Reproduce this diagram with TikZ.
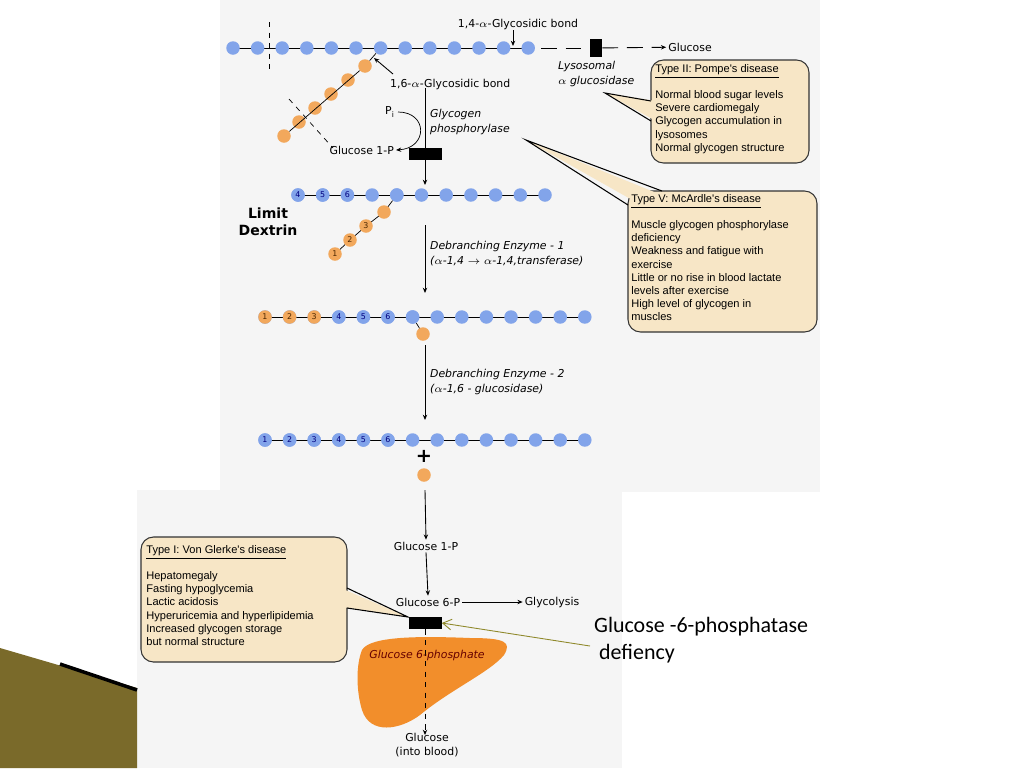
\documentclass[tikz,border=0pt]{standalone}
\usepackage{fontspec}
\setmainfont{DejaVu Sans}
\newfontfamily\boxfont{Liberation Sans}
\newfontfamily\slidefont{Carlito}
\usetikzlibrary{positioning,arrows.meta}
\definecolor{glcblue}{HTML}{82A4EA}
\definecolor{glcorange}{HTML}{F2A85C}
\definecolor{tan}{HTML}{F7E6C6}
\definecolor{liver}{HTML}{F28E2B}
\definecolor{panel}{HTML}{F5F5F5}
\definecolor{gold}{HTML}{7A6A2A}
\tikzset{
  glc/.style={circle, fill=glcblue, minimum size=0.27cm, inner sep=0pt, font=\fontsize{4.5}{5}\selectfont, text=blue!50!black},
  glco/.style={glc, fill=glcorange, text=black!70!orange},
  lbl/.style={font=\fontsize{6.2}{7.5}\selectfont, inner sep=1pt},
  enz/.style={lbl, font=\fontsize{6.2}{8.5}\selectfont\itshape, align=left, anchor=west},
  box/.style={draw=black!80, fill=tan, rounded corners=0.25cm, line width=0.6pt},
  boxtxt/.style={font=\fontsize{6.3}{7.5}\boxfont, align=left, anchor=north west, inner sep=0pt},
  flow/.style={-{Stealth[length=3pt,width=2.5pt]}, line width=0.5pt},
  block/.style={fill=black, minimum width=0.66cm, minimum height=0.24cm, inner sep=0pt}
}
\begin{document}
\begin{tikzpicture}[x=0.02cm, y=-0.02cm]
  \useasboundingbox (0,0) rectangle (1024,768);
  \fill[white] (0,0) rectangle (1024,768);
  % panels
  \fill[panel] (220,0) rectangle (820,492);
  \fill[panel] (137,490) rectangle (622,768);
  \fill[gold] (0,648) -- (137,688) -- (137,768) -- (0,768) -- cycle;
  \draw[black, line width=2pt] (60,664) -- (137,690);

  % chain 1
  \draw (233,48) -- (528,48);
  \foreach \i in {1,...,13} \node[glc] (a\i) at ({233+24.6*(\i-1)},48) {};
  \draw[dashed] (269,22) -- (269,74);
  \foreach \i/\x/\y in {1/365/66,2/348/80,3/331/94,4/315/108,5/299/122,6/284/136}
    \node[glco] (o\i) at (\x,\y) {};
  \draw (a7) -- (o1) -- (o6);
  \draw[dashed] (289,99) -- (333,148);
  \node[lbl] (b14) at (518,24) {1,4-$\alpha$-Glycosidic bond};
  \draw[flow] (513,30) -- (513,46);
  \node[lbl, anchor=west] (b16) at (388,84) {1,6-$\alpha$-Glycosidic bond};
  \draw[flow] (393,74) -- (374,58);
  \node[block, minimum width=0.24cm, minimum height=0.36cm] (lys) at (596,48) {};
  \draw[dashed, dash pattern=on 9pt off 5pt] (541,48) -- (lys);
  \node[lbl] (glc) at (690,47) {Glucose};
  \draw[flow, dash pattern=on 9pt off 5pt] (lys) -- (glc);
  \node[enz] (lyst) at (556,74) {Lysosomal\\$\alpha$ glucosidase};

  % phosphorylase step
  \node[block] (gp) at (425,154) {};
  \draw[flow] (425,88) -- (425,185);
  \node[enz] (gpt) at (428,122) {Glycogen\\phosphorylase};
  \node[lbl] (pi) at (390,112) {P$_\mathrm{i}$};
  \node[lbl, anchor=east] (g1p) at (396,150) {Glucose 1-P};
  \draw[-{Stealth[length=3pt,width=2.5pt]}] (398,112) .. controls (428,112) and (428,148) .. (g1p.east);

  % Pompe
  \draw[box] (651,60) rectangle (809,163);
  \fill[tan] (605,93) -- (656,101) -- (656,121) -- cycle;
  \draw[line width=0.6pt] (651,101) -- (605,93) -- (651,121);
  \node[boxtxt] (pompe) at (655,64) {\underline{Type II: Pompe's disease}\\[6pt]Normal blood sugar levels\\Severe cardiomegaly\\Glycogen accumulation in\\lysosomes\\Normal glycogen structure};

  % McArdle
  \draw[box] (628,191) rectangle (817,332);
  \fill[tan] (526,140) -- (634,201) -- (664,196) -- cycle;
  \draw[line width=0.6pt] (628,205) -- (526,140) -- (662,191);
  \node[boxtxt] (mcardle) at (631,194) {\underline{Type V: McArdle's disease}\\[6pt]Muscle glycogen phosphorylase\\deficiency\\Weakness and fatigue with\\exercise\\Little or no rise in blood lactate\\levels after exercise\\High level of glycogen in\\muscles};

  % chain 2 : limit dextrin
  \draw (298,195) -- (545,195);
  \foreach \i in {1,...,11} \node[glc] (d\i) at ({298+24.7*(\i-1)},195) {};
  \foreach \i/\t in {1/4,2/5,3/6} \node[glc] at (d\i) {\t};
  \coordinate (e1) at (384,212);
  \coordinate (e2) at (366,226);
  \coordinate (e3) at (350,240);
  \coordinate (e4) at (335,254);
  \draw (d5) -- (e1) -- (e2) -- (e3) -- (e4);
  \node[glc] at (d5) {};
  \node[glco] at (e1) {}; \node[glco] at (e2) {3};
  \node[glco] at (e3) {2}; \node[glco] at (e4) {1};
  \node[font=\fontsize{8}{9.5}\selectfont\bfseries, align=center] (ld) at (268,222) {Limit\\Dextrin};

  % debranching 1
  \draw[flow] (425,225) -- (425,293);
  \node[enz] (de1) at (428,254) {Debranching Enzyme - 1\\($\alpha$-1,4 $\rightarrow$ $\alpha$-1,4,transferase)};

  % chain 3
  \draw (265,317) -- (585,317);
  \foreach \i in {1,...,14} \node[glc] (f\i) at ({265+24.6*(\i-1)},317) {};
  \foreach \i in {1,2,3} \node[glco] at (f\i) {\i};
  \foreach \i in {4,5,6} \node[glc] at (f\i) {\i};
  \coordinate (fo) at (423,334);
  \draw (f7) -- (fo);
  \node[glc] at (f7) {}; \node[glco] at (fo) {};

  % debranching 2
  \draw[flow] (425,345) -- (425,420);
  \node[enz] (de2) at (428,382) {Debranching Enzyme - 2\\($\alpha$-1,6 - glucosidase)};

  % chain 4
  \draw (265,440) -- (585,440);
  \foreach \i in {1,...,14} \node[glc] (h\i) at ({265+24.6*(\i-1)},440) {};
  \foreach \i in {1,...,6} \node[glc] at (h\i) {\i};
  \node[font=\fontsize{11}{12}\selectfont\bfseries] (plus) at (424,456) {+};
  \node[glco] (free) at (424,475) {};

  % lower pathway
  \node[lbl] (g1pb) at (426,546) {Glucose 1-P};
  \draw[flow] (425,490) -- (g1pb.north);
  \node[lbl] (g6p) at (428,602) {Glucose 6-P};
  \draw[flow] (g1pb.south) -- (g6p.north);
  \node[lbl] (glyco) at (552,602) {Glycolysis};
  \draw[flow] (g6p.east) -- (glyco.west);
  \fill[liver] (362,650) .. controls (370,636) and (420,636) .. (470,638)
    .. controls (505,638) and (512,642) .. (504,655)
    .. controls (490,672) and (450,690) .. (420,715)
    .. controls (400,730) and (370,735) .. (362,710)
    .. controls (356,690) and (356,665) .. (362,650);
  \node[block] (g6pase) at (425,623) {};
  \node[lbl, align=center] (blood) at (427,745) {Glucose\\(into blood)};
  \draw[flow, dashed] (g6pase) -- (425,735);
  \node[lbl, font=\fontsize{6.2}{7.5}\selectfont\itshape, text=red!40!black] (g6pt) at (427,655) {Glucose 6-phosphate};

  % Von Gierke
  \draw[box] (141,537) rectangle (347,662);
  \fill[tan] (408,617) -- (343,589) -- (343,607) -- cycle;
  \draw[line width=0.6pt] (347,588) -- (408,617) -- (347,608);
  \node[boxtxt] (gierke) at (146,545) {\underline{Type I: Von Glerke's disease}\\[6pt]Hepatomegaly\\Fasting hypoglycemia\\Lactic acidosis\\Hyperuricemia and hyperlipidemia\\Increased glycogen storage\\but normal structure};

  % slide note
  \node[font=\fontsize{12.5}{15}\slidefont, align=left, anchor=west] (note) at (588,640) {Glucose -6-phosphatase\\\ defiency};
  \draw[-{Straight Barb[length=5pt,width=6pt]}, draw=olive!70!gray, line width=0.5pt] (590,646) -- (g6pase.east);
\end{tikzpicture}
\end{document}
